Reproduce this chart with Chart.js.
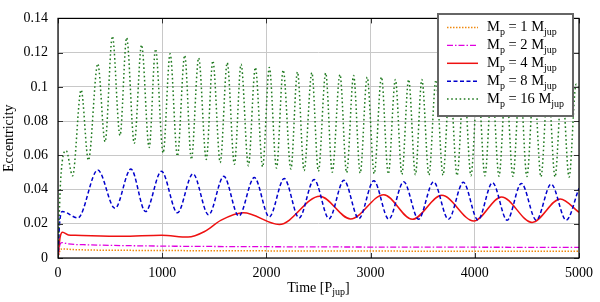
<!DOCTYPE html>
<html>
<head>
<meta charset="utf-8">
<script src="https://cdn.jsdelivr.net/npm/chart.js@4.4.1/dist/chart.umd.min.js"></script>
<style>
html, body { margin: 0; padding: 0; background: #fff; }
#wrap { position: relative; width: 600px; height: 302px; }
</style>
</head>
<body>
<div id="wrap"><canvas id="ecc"></canvas></div>
<script>
// planet masses (Mjup), one curve each
const masses = [1, 2, 4, 8, 16];

// tick labels
const xTicks = [0, 1000, 2000, 3000, 4000, 5000];
const yTicks = [0, 0.02, 0.04, 0.06, 0.08, 0.1, 0.12, 0.14];

// values (time in Pjup, eccentricity)
const t1 = [0, 20, 40, 150, 930, 2500, 5000];
const e1 = [0, 0.0045, 0.0053, 0.0049, 0.0044, 0.0041, 0.0039];

const t2 = [0, 20, 38, 100, 292, 930, 2000, 3000, 4000, 5000];
const e2 = [0, 0.0080, 0.0090, 0.0082, 0.0077, 0.0070, 0.0066, 0.0064, 0.0063, 0.0062];

const t4 = [0, 20, 44, 100, 165, 611, 993, 1248, 1407, 1566, 1780, 2124, 2512, 2808, 3126, 3400, 3683, 3990, 4256, 4550, 4820, 5000];
const e4 = [0, 0.0120, 0.0151, 0.0135, 0.0133, 0.0127, 0.0133, 0.0122, 0.0155, 0.0221, 0.0264, 0.0196, 0.0361, 0.0228, 0.0370, 0.0226, 0.0366, 0.0216, 0.0357, 0.0208, 0.0345, 0.0267];

const t8 = [0, 15, 44, 191, 382, 547, 700, 840, 993, 1146, 1295, 1445, 1591, 1735, 1884, 2028, 2171, 2314, 2458, 2601, 2744, 2887, 3031, 3174, 3318, 3460, 3604, 3747, 3890, 4030, 4170, 4310, 4447, 4590, 4733, 4877, 5000];
const e8 = [0, 0.0200, 0.0271, 0.0234, 0.0514, 0.0290, 0.0520, 0.0271, 0.0507, 0.0264, 0.0492, 0.0252, 0.0477, 0.0245, 0.0470, 0.0240, 0.0464, 0.0234, 0.0458, 0.0230, 0.0454, 0.0230, 0.0451, 0.0227, 0.0445, 0.0227, 0.0445, 0.0226, 0.0442, 0.0222, 0.0440, 0.0221, 0.0436, 0.0221, 0.0432, 0.0221, 0.0408];

const t16 = [0, 25, 79, 140, 222, 292, 382, 452, 522, 595, 659, 732, 802, 875, 936, 1009, 1076, 1146, 1216, 1280, 1350, 1423, 1486, 1557, 1624, 1693, 1757, 1827, 1894, 1964, 2028, 2097, 2161, 2235, 2298, 2362, 2436, 2499, 2569, 2632, 2706, 2770, 2837, 2900, 2967, 3035, 3104, 3170, 3238, 3300, 3365, 3430, 3492, 3560, 3627, 3695, 3761, 3830, 3896, 3963, 4030, 4097, 4165, 4232, 4299, 4366, 4434, 4500, 4568, 4635, 4703, 4770, 4837, 4905, 4972, 5000];
const e16 = [0, 0.0450, 0.0627, 0.0480, 0.0982, 0.0571, 0.1135, 0.0679, 0.1296, 0.0716, 0.1287, 0.0670, 0.1245, 0.0645, 0.1221, 0.0614, 0.1193, 0.0595, 0.1184, 0.0576, 0.1169, 0.0576, 0.1152, 0.0558, 0.1141, 0.0548, 0.1132, 0.0539, 0.1113, 0.0533, 0.1113, 0.0526, 0.1098, 0.0520, 0.1087, 0.0511, 0.1083, 0.0507, 0.1081, 0.0502, 0.1072, 0.0499, 0.1066, 0.0496, 0.1057, 0.0493, 0.1057, 0.0491, 0.1043, 0.0489, 0.1043, 0.0487, 0.1043, 0.0485, 0.1040, 0.0484, 0.1037, 0.0482, 0.1035, 0.0481, 0.1032, 0.0480, 0.1030, 0.0478, 0.1027, 0.0477, 0.1025, 0.0476, 0.1022, 0.0475, 0.1020, 0.0474, 0.1018, 0.0473, 0.1015, 0.0990];

const SERIF = '"Liberation Serif", "DejaVu Serif", serif';

function pts(ts, es) {
    return ts.map((t, i) => ({ x: t, y: es[i] }));
}

// texto con subindices: parts = [[texto, esSub], ...]
function richText(ctx, parts, x, y, size, align) {
    const subSize = Math.round(size * 0.72);
    let w = 0;
    parts.forEach(p => {
        ctx.font = (p[1] ? subSize : size) + 'px ' + SERIF;
        w += ctx.measureText(p[0]).width;
    });
    let cx = align === 'center' ? x - w / 2 : x;
    ctx.textAlign = 'left';
    ctx.textBaseline = 'alphabetic';
    ctx.fillStyle = '#000';
    parts.forEach(p => {
        ctx.font = (p[1] ? subSize : size) + 'px ' + SERIF;
        ctx.fillText(p[0], cx, p[1] ? y + size * 0.28 : y);
        cx += ctx.measureText(p[0]).width;
    });
}

const gnuFrame = {
    id: 'gnuFrame',
    afterDraw(chart) {
        const ctx = chart.ctx;
        const a = chart.chartArea;
        const xs = chart.scales.x, ys = chart.scales.y;
        ctx.save();

        // ticks hacia dentro en los cuatro lados
        ctx.strokeStyle = '#333';
        ctx.lineWidth = 1;
        ctx.beginPath();
        xTicks.forEach(v => {
            const px = Math.round(xs.getPixelForValue(v)) + 0.5;
            ctx.moveTo(px, a.bottom); ctx.lineTo(px, a.bottom - 5);
            ctx.moveTo(px, a.top); ctx.lineTo(px, a.top + 5);
        });
        yTicks.forEach(v => {
            const py = Math.round(ys.getPixelForValue(v)) + 0.5;
            ctx.moveTo(a.left, py); ctx.lineTo(a.left + 5, py);
            ctx.moveTo(a.right, py); ctx.lineTo(a.right - 5, py);
        });
        ctx.stroke();

        // borde
        ctx.strokeStyle = '#000';
        ctx.lineWidth = 1.2;
        ctx.strokeRect(a.left, a.top, a.right - a.left, a.bottom - a.top);

        // titulos de ejes
        richText(ctx, [['Time [P', false], ['jup', true], [']', false]], (a.left + a.right) / 2, 291.5, 14, 'center');
        ctx.save();
        ctx.translate(13, (a.top + a.bottom) / 2);
        ctx.rotate(-Math.PI / 2);
        ctx.font = '14px ' + SERIF;
        ctx.textAlign = 'center';
        ctx.textBaseline = 'alphabetic';
        ctx.fillStyle = '#000';
        ctx.fillText('Eccentricity', 0, 0);
        ctx.restore();

        // leyenda
        const bx = 438, by = 14, bw = 135, bh = 102;
        ctx.fillStyle = '#fff';
        ctx.fillRect(bx, by, bw, bh);
        ctx.strokeStyle = '#666';
        ctx.lineWidth = 2;
        ctx.strokeRect(bx, by, bw, bh);
        chart.data.datasets.forEach((ds, i) => {
            const ry = 27.5 + i * 17.9;
            ctx.save();
            ctx.strokeStyle = ds.borderColor;
            ctx.lineWidth = ds.borderWidth;
            ctx.setLineDash(ds.borderDash || []);
            ctx.beginPath();
            ctx.moveTo(447, ry);
            ctx.lineTo(478, ry);
            ctx.stroke();
            ctx.restore();
            richText(ctx, [['M', false], ['p', true], [' = ' + masses[i] + ' M', false], ['jup', true]], 487, ry + 3.5, 14.5, 'left');
        });
        ctx.restore();
    }
};

const styles = [
    { color: '#f08a10', width: 1.5, dash: [1.5, 1.5] },
    { color: '#e000e0', width: 1.3, dash: [6, 2, 1.5, 2] },
    { color: '#ee1111', width: 1.5, dash: [] },
    { color: '#0000cc', width: 1.5, dash: [4, 2.5] },
    { color: '#1f7a1f', width: 1.5, dash: [1.6, 2.6] }
];
const series = [pts(t1, e1), pts(t2, e2), pts(t4, e4), pts(t8, e8), pts(t16, e16)];

function createEccChart() {
    const ctx = document.getElementById('ecc').getContext('2d');
    new Chart(ctx, {
        type: 'line',
        data: {
            datasets: series.map((d, i) => ({
                label: 'Mp = ' + masses[i] + ' Mjup',
                data: d,
                borderColor: styles[i].color,
                borderWidth: styles[i].width,
                borderDash: styles[i].dash,
                pointRadius: 0,
                fill: false,
                cubicInterpolationMode: 'monotone',
                order: 4 - i
            }))
        },
        options: {
            responsive: true,
            maintainAspectRatio: false,
            animation: false,
            layout: { padding: { left: 0, right: 18, top: 8, bottom: 0 } },
            plugins: {
                legend: { display: false },
                tooltip: { enabled: false }
            },
            scales: {
                x: {
                    type: 'linear',
                    min: 0,
                    max: 5000,
                    afterBuildTicks: s => { s.ticks = xTicks.map(v => ({ value: v })); },
                    afterFit: s => { s.height = 44; },
                    grid: { color: '#c8c8c8', drawTicks: false },
                    border: { display: false },
                    ticks: {
                        padding: 7,
                        color: '#000',
                        font: { family: SERIF, size: 14 },
                        maxRotation: 0,
                        callback: v => String(v)
                    }
                },
                y: {
                    min: 0,
                    max: 0.14,
                    afterBuildTicks: s => { s.ticks = yTicks.map(v => ({ value: v })); },
                    afterFit: s => { s.width = 58; },
                    grid: { color: '#c8c8c8', drawTicks: false },
                    border: { display: false },
                    ticks: {
                        padding: 10,
                        color: '#000',
                        font: { family: SERIF, size: 14 },
                        callback: v => String(Number(v.toFixed(2)))
                    }
                }
            }
        },
        plugins: [gnuFrame]
    });
}

document.addEventListener('DOMContentLoaded', () => {
    createEccChart();
});
</script>
</body>
</html>
